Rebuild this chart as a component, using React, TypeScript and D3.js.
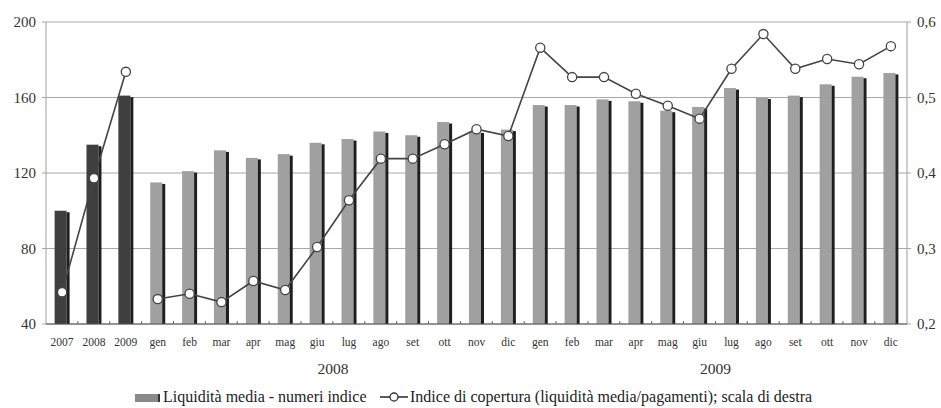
import * as d3 from "d3";

// categories: 3 annual values, then months of 2008 and 2009
const years = ["2007", "2008", "2009"];
const months = ["gen", "feb", "mar", "apr", "mag", "giu", "lug", "ago", "set", "ott", "nov", "dic"];
const categories = [
  ...years,
  ...months.map((m) => "2008-" + m),
  ...months.map((m) => "2009-" + m),
];

// Liquidità media - numeri indice (left scale)
const liquidita = [
  100, 135, 161,
  115, 121, 132, 128, 130, 136, 138, 142, 140, 147, 142, 143,
  156, 156, 159, 158, 153, 155, 165, 160, 161, 167, 171, 173,
];

// Indice di copertura (right scale)
const coperturaYears = [0.242, 0.393, 0.534];
const coperturaMonths = [
  0.233, 0.24, 0.229, 0.257, 0.245, 0.302, 0.364, 0.419, 0.419, 0.438, 0.458, 0.449,
  0.566, 0.527, 0.527, 0.505, 0.489, 0.472, 0.538, 0.584, 0.538, 0.551, 0.544, 0.568,
];

const leftTicks = [40, 80, 120, 160, 200];
const rightTicks = [0.2, 0.3, 0.4, 0.5, 0.6];
const groupLabels = ["2008", "2009"];

const W = 941;
const H = 408;
const m = { left: 46, right: 34, top: 22, bottom: 84 };
const FONT = "Liberation Serif, DejaVu Serif, serif";

export default function App() {
  const x = d3
    .scaleBand<string>()
    .domain(categories)
    .range([m.left, W - m.right])
    .paddingInner(0.53)
    .paddingOuter(0.27);
  const step = x.step();
  const yL = d3.scaleLinear().domain([40, 200]).range([H - m.bottom, m.top]);
  const yR = d3.scaleLinear().domain([0.2, 0.6]).range([H - m.bottom, m.top]);
  const cx = (c: string) => (x(c) as number) + x.bandwidth() / 2;

  const line = d3
    .line<[string, number]>()
    .x((d) => cx(d[0]))
    .y((d) => yR(d[1]));

  const yearPts: [string, number][] = years.map((c, i) => [c, coperturaYears[i]]);
  const monthPts: [string, number][] = categories.slice(3).map((c, i) => [c, coperturaMonths[i]]);

  const x0 = m.left;
  const x1 = W - m.right;
  const yb = H - m.bottom;
  const bw = x.bandwidth();
  const edge = 3;
  const bandStart = (i: number) => x0 + i * step;

  return (
    <svg
      width={W}
      height={H}
      style={{ position: "absolute", left: 0, top: 0, background: "#fff", fontFamily: FONT }}
    >
      {/* gridlines */}
      {leftTicks.map((t) => (
        <line key={t} x1={x0 - 4} x2={x1 + 4} y1={yL(t)} y2={yL(t)} stroke="#a8a8a8" strokeWidth={1} />
      ))}
      {/* frame */}
      <line x1={x0} x2={x0} y1={m.top} y2={yb} stroke="#a0a0a0" />
      <line x1={x1} x2={x1} y1={m.top} y2={yb} stroke="#a0a0a0" />

      {/* bars */}
      {categories.map((c, i) => {
        const yearBar = i < 3;
        const top = yL(liquidita[i]);
        const bx = x(c) as number;
        return (
          <g key={c}>
            <rect x={bx} y={top} width={bw - edge} height={yb - top} fill={yearBar ? "#3f3f3f" : "#a0a0a0"} />
            <rect x={bx + bw - edge} y={top + 1.5} width={edge} height={yb - top - 1.5} fill="#1e1e1e" />
          </g>
        );
      })}

      {/* bottom axis */}
      <line x1={x0} x2={x1} y1={yb} y2={yb} stroke="#555" strokeWidth={1.2} />
      {categories.map((c, i) =>
        i > 0 ? (
          <line key={"t" + c} x1={bandStart(i)} x2={bandStart(i)} y1={yb} y2={yb - 3} stroke="#666" />
        ) : null
      )}

      {/* line series */}
      <path d={line(yearPts) || ""} fill="none" stroke="#444" strokeWidth={1.6} />
      <path d={line(monthPts) || ""} fill="none" stroke="#444" strokeWidth={1.6} />
      {[...yearPts, ...monthPts].map((d) => (
        <circle key={"p" + d[0]} cx={cx(d[0])} cy={yR(d[1])} r={4.6} fill="#fff" stroke="#444" strokeWidth={1.3} />
      ))}

      {/* left axis labels */}
      {leftTicks.map((t) => (
        <text key={"l" + t} x={36} y={yL(t)} dy="0.35em" textAnchor="end" fontSize={15} fill="#333">
          {t}
        </text>
      ))}
      {/* right axis labels */}
      {rightTicks.map((t) => (
        <text key={"r" + t} x={917} y={yR(t)} dy="0.35em" textAnchor="start" fontSize={15} fill="#333">
          {t.toFixed(1).replace(".", ",")}
        </text>
      ))}

      {/* category labels */}
      {categories.map((c) => (
        <text key={"c" + c} x={cx(c)} y={yb + 22} textAnchor="middle" fontSize={11.5} fill="#333">
          {c.includes("-") ? c.split("-")[1] : c}
        </text>
      ))}
      {groupLabels.map((g, gi) => {
        const first = categories.indexOf(g + "-gen");
        const last = categories.indexOf(g + "-dic");
        const mid = (bandStart(first) + bandStart(last + 1)) / 2;
        return (
          <text key={"g" + gi} x={mid} y={yb + 50} textAnchor="middle" fontSize={15.5} fill="#333">
            {g}
          </text>
        );
      })}

      {/* legend */}
      <g fontSize={16} fill="#222">
        <rect x={135} y={394} width={25} height={8} fill="#8a8a8a" />
        <rect x={158} y={394} width={2} height={8} fill="#333" />
        <text x={163} y={402}>Liquidità media - numeri indice</text>
        <line x1={380} x2={408} y1={397} y2={397} stroke="#333" strokeWidth={1.6} />
        <circle cx={394} cy={397} r={4} fill="#fff" stroke="#333" strokeWidth={1.3} />
        <text x={410} y={402}>Indice di copertura (liquidità media/pagamenti); scala di destra</text>
      </g>
    </svg>
  );
}
